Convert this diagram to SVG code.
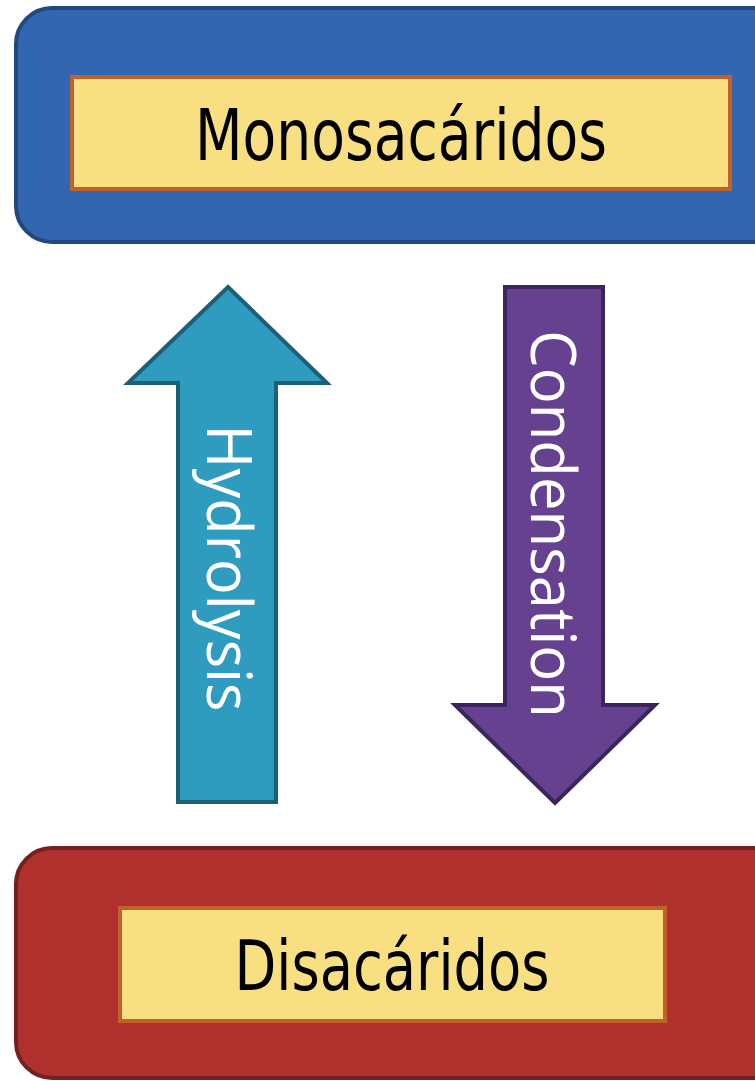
<svg xmlns="http://www.w3.org/2000/svg" width="755" height="1081" viewBox="0 0 755 1081">
<style>
.lbl{font-family:"DejaVu Sans","Liberation Sans",sans-serif;fill:#000;text-anchor:middle}
.arr{font-family:"Open Sans","Noto Sans",sans-serif;fill:#fff;text-anchor:middle}
.inner{fill:#F8DF82;stroke:#C0622A;stroke-width:4}
</style>
<rect width="755" height="1081" fill="#fff"/>
<g id="monosacaridos">
<rect x="16" y="8" width="780" height="234" rx="36" fill="#3366B0" stroke="#22497E" stroke-width="4"/>
<rect class="inner" x="72" y="77" width="658" height="112"/>
<text class="lbl" x="401" y="160" font-size="71" textLength="412" lengthAdjust="spacingAndGlyphs">Monosacáridos</text>
</g>
<g id="disacaridos">
<rect x="16" y="848" width="780" height="230" rx="36" fill="#B0302E" stroke="#76201E" stroke-width="4"/>
<rect class="inner" x="120" y="908" width="545" height="113"/>
<text class="lbl" x="392" y="990" font-size="69" textLength="315" lengthAdjust="spacingAndGlyphs">Disacáridos</text>
</g>
<g id="connectors">
<g id="hydrolysis">
<polygon points="228,287 327,383 276,383 276,802 178,802 178,383 128,383" fill="#2E9BBF" stroke="#1E5F78" stroke-width="4" stroke-linejoin="miter"/>
<text class="arr" transform="translate(207,568) rotate(90)" x="0" y="0" font-size="62" textLength="287" lengthAdjust="spacingAndGlyphs">Hydrolysis</text>
</g>
<g id="condensation">
<polygon points="505,287 603,287 603,705 655,705 555,803 455,705 505,705" fill="#65418F" stroke="#3B255E" stroke-width="4" stroke-linejoin="miter"/>
<text class="arr" transform="translate(531,524) rotate(90)" x="0" y="0" font-size="62" textLength="388" lengthAdjust="spacingAndGlyphs">Condensation</text>
</g>
</g>
</svg>
